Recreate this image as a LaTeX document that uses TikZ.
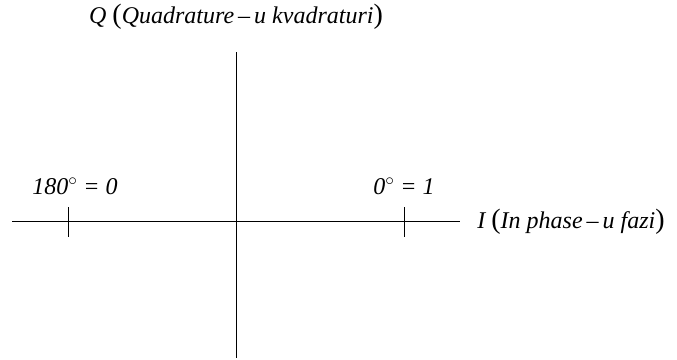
\documentclass[tikz,border=0pt]{standalone}
\usepackage{fontspec}
\setmainfont{Liberation Serif}[ItalicFont={Liberation Serif Italic},UprightFont={Liberation Serif}]
\usepackage{tikz}
\usetikzlibrary{positioning}
\newcommand{\bigpar}[1]{{\fontsize{28}{28}\selectfont\upshape #1}}
\tikzset{lbl/.style={font=\fontsize{24}{28}\selectfont\rmfamily\itshape,inner sep=0}}

\begin{document}
\begin{tikzpicture}[x=1pt,y=-1pt,line width=0.8pt]
  \useasboundingbox (0,0) rectangle (677,359);
  % axes
  \coordinate (xl) at (12,221);
  \coordinate (xr) at (460,221);
  \coordinate (yt) at (236,52);
  \coordinate (yb) at (236,358);
  \draw (xl) -- (xr);
  \draw (yt) -- (yb);
  % ticks at 180 and 0 degrees
  \coordinate (t180a) at (68,207); \coordinate (t180b) at (68,237);
  \coordinate (t0a) at (404,207); \coordinate (t0b) at (404,237);
  \draw (t180a) -- (t180b);
  \draw (t0a) -- (t0b);
  % labels
  \node[lbl] (qlab) at (236,17) {Q \bigpar{(}Quadrature\,--\,u kvadraturi\bigpar{)}};
  \node[lbl,anchor=west] (ilab) at (477,222) {I \bigpar{(}In phase\,--\,u fazi\bigpar{)}};
  \node[lbl] (l180) at (75,186) {180$^{\circ}$ = 0};
  \node[lbl] (l0) at (404,186) {0$^{\circ}$ = 1};
\end{tikzpicture}
\end{document}
